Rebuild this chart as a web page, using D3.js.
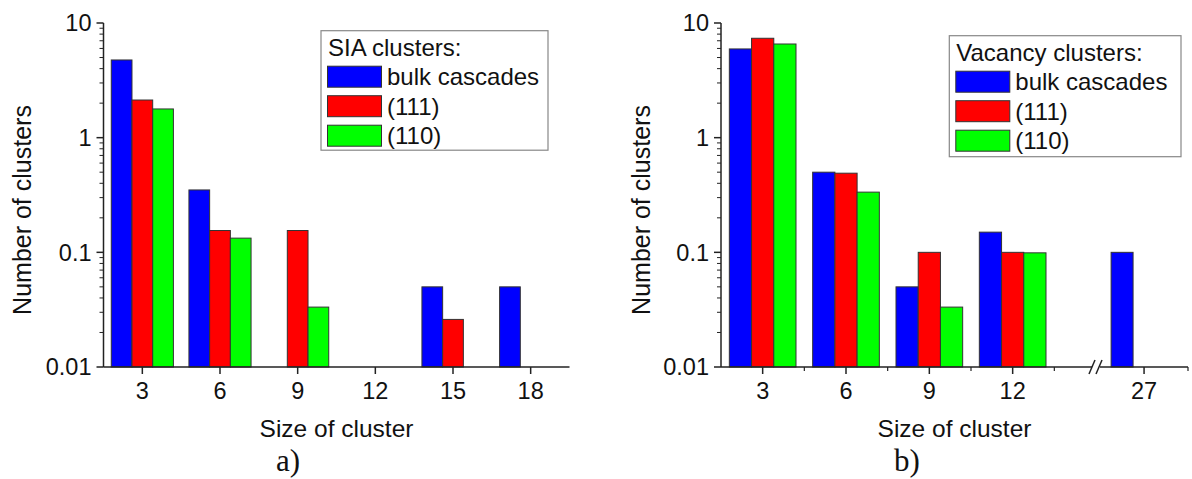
<!DOCTYPE html>
<html>
<head>
<meta charset="utf-8">
<script src="https://cdn.jsdelivr.net/npm/d3@7"></script>
<style>
  body { margin: 0; background: #fff; }
  svg { display: block; }
  text { font-family: 'Liberation Sans', Arial, sans-serif; fill: #111; }
</style>
</head>
<body>
<svg id="chart" width="1192" height="479"></svg>
<script>
// panel a) SIA clusters
const sizesA = [3, 6, 9, 12, 15, 18];
const bulkA = [4.76, 0.35, null, null, 0.05, 0.05];
const s111A = [2.13, 0.155, 0.155, null, 0.026, null];
const s110A = [1.78, 0.133, 0.0333, null, null, null];

// panel b) vacancy clusters
const sizesB = [3, 6, 9, 12, 27];
const bulkB = [5.94, 0.5, 0.05, 0.15, 0.1];
const s111B = [7.36, 0.49, 0.1, 0.1, null];
const s110B = [6.56, 0.335, 0.0333, 0.099, null];

const seriesNames = ['bulk cascades', '(111)', '(110)'];
const seriesColors = ['#0000ff', '#ff0000', '#00ff00'];
const yMajor = [0.01, 0.1, 1, 10];

const svg = d3.select('#chart');
svg.append('rect').attr('width', 1192).attr('height', 479).attr('fill', '#fff');

const axisColor = '#222';
const barStroke = '#333';

function drawPanel(p) {
    const g = svg.append('g');

    const y = d3.scaleLog().domain([0.01, 10]).range([367, 23]);
    const x = d3.scaleLinear().domain(p.xDomain).range(p.xRange);

    // bars
    const rows = [];
    p.sizes.forEach((s, i) => {
        p.series.forEach((vals, k) => {
            if (vals[i] !== null) rows.push({ size: s, k: k, v: vals[i] });
        });
    });
    g.append('g')
        .selectAll('rect')
        .data(rows)
        .enter()
        .append('rect')
            .attr('x', d => x(d.size + (d.k - 1.5) * 0.8))
            .attr('width', d => x(d.size + (d.k - 0.5) * 0.8) - x(d.size + (d.k - 1.5) * 0.8))
            .attr('y', d => y(d.v))
            .attr('height', d => y(0.01) - y(d.v))
            .attr('fill', d => seriesColors[d.k])
            .attr('stroke', barStroke)
            .attr('stroke-width', 1);

    // y axis
    const x0 = p.xRange[0];
    g.append('line')
        .attr('x1', x0).attr('x2', x0)
        .attr('y1', y(10)).attr('y2', y(0.01))
        .attr('stroke', axisColor).attr('stroke-width', 1.5);

    const minor = [];
    [0.01, 0.1, 1].forEach(dec => {
        for (let m = 2; m <= 9; m++) minor.push(dec * m);
    });
    g.append('g').selectAll('line')
        .data(minor)
        .enter()
        .append('line')
            .attr('x1', x0 - 4).attr('x2', x0)
            .attr('y1', d => y(d)).attr('y2', d => y(d))
            .attr('stroke', axisColor).attr('stroke-width', 1);
    g.append('g').selectAll('line')
        .data(yMajor)
        .enter()
        .append('line')
            .attr('x1', x0 - 7).attr('x2', x0)
            .attr('y1', d => y(d)).attr('y2', d => y(d))
            .attr('stroke', axisColor).attr('stroke-width', 1.5);
    g.append('g').selectAll('text')
        .data(yMajor)
        .enter()
        .append('text')
            .attr('x', x0 - 12)
            .attr('y', d => y(d))
            .attr('dy', '0.36em')
            .attr('text-anchor', 'end')
            .style('font-size', '23.5px')
            .text(d => d3.format('~g')(d));

    // x axis
    const yb = y(0.01);
    if (p.breakAt) {
        const bx = x(p.breakAt);
        g.append('line')
            .attr('x1', x0).attr('x2', bx - 4)
            .attr('y1', yb).attr('y2', yb)
            .attr('stroke', axisColor).attr('stroke-width', 1.5);
        g.append('line')
            .attr('x1', bx + 4).attr('x2', p.xRange[p.xRange.length - 1])
            .attr('y1', yb).attr('y2', yb)
            .attr('stroke', axisColor).attr('stroke-width', 1.5);
        [-4, 3].forEach(o => {
            g.append('line')
                .attr('x1', bx + o - 3).attr('x2', bx + o + 3)
                .attr('y1', yb + 7).attr('y2', yb - 7)
                .attr('stroke', axisColor).attr('stroke-width', 1.5);
        });
    } else {
        g.append('line')
            .attr('x1', x0).attr('x2', p.xRange[p.xRange.length - 1])
            .attr('y1', yb).attr('y2', yb)
            .attr('stroke', axisColor).attr('stroke-width', 1.5);
    }
    g.append('g').selectAll('line')
        .data(p.sizes)
        .enter()
        .append('line')
            .attr('x1', d => x(d)).attr('x2', d => x(d))
            .attr('y1', yb).attr('y2', yb + 7)
            .attr('stroke', axisColor).attr('stroke-width', 1.5);
    g.append('g').selectAll('line')
        .data(p.xMinor)
        .enter()
        .append('line')
            .attr('x1', d => x(d)).attr('x2', d => x(d))
            .attr('y1', yb).attr('y2', yb + 4)
            .attr('stroke', axisColor).attr('stroke-width', 1.2);
    g.append('g').selectAll('text')
        .data(p.sizes)
        .enter()
        .append('text')
            .attr('x', d => x(d))
            .attr('y', 399)
            .attr('text-anchor', 'middle')
            .style('font-size', '23.5px')
            .text(d => d);

    // axis titles
    const xMid = (x0 + p.xRange[p.xRange.length - 1]) / 2;
    g.append('text')
        .attr('x', xMid).attr('y', 437)
        .attr('text-anchor', 'middle')
        .style('font-size', '24.5px')
        .text('Size of cluster');
    g.append('text')
        .attr('transform', `translate(${p.yTitleX},210) rotate(-90)`)
        .attr('text-anchor', 'middle')
        .style('font-size', '25px')
        .text('Number of clusters');

    // panel label
    g.append('text')
        .attr('x', p.labelX).attr('y', 471)
        .style('font-family', "'Liberation Serif', 'Times New Roman', serif")
        .style('font-size', '31px')
        .text(p.label);

    // legend
    const L = p.legend;
    const lg = g.append('g').attr('transform', `translate(${L.x},${L.y})`);
    lg.append('rect')
        .attr('width', L.w).attr('height', L.h)
        .attr('fill', '#fff')
        .attr('stroke', '#888').attr('stroke-width', 1.2);
    lg.append('text')
        .attr('x', 7).attr('y', 25)
        .style('font-size', '24px')
        .text(p.title);
    const items = lg.selectAll('g.item')
        .data(seriesNames)
        .enter()
        .append('g')
            .attr('class', 'item')
            .attr('transform', (d, i) => `translate(0,${46 + i * 29.5})`);
    items.append('rect')
        .attr('x', 6.5).attr('y', -10.5)
        .attr('width', 54).attr('height', 21)
        .attr('fill', (d, i) => seriesColors[i])
        .attr('stroke', barStroke).attr('stroke-width', 1);
    items.append('text')
        .attr('x', 66).attr('dy', '0.35em')
        .style('font-size', '24px')
        .text(d => d);
}

drawPanel({
    sizes: sizesA,
    series: [bulkA, s111A, s110A],
    xDomain: [1.5, 19.5],
    xRange: [103.5, 569.5],
    xMinor: [],
    yTitleX: 31,
    label: 'a)',
    labelX: 276,
    title: 'SIA clusters:',
    legend: { x: 321, y: 30.7, w: 227, h: 119.5 }
});

drawPanel({
    sizes: sizesB,
    series: [bulkB, s111B, s110B],
    xDomain: [1.5, 15, 25.25, 28.6],
    xRange: [721, 1096, 1096, 1188],
    xMinor: [4.5, 7.5, 10.5, 13.5, 28.6],
    breakAt: 15,
    yTitleX: 650,
    label: 'b)',
    labelX: 894,
    title: 'Vacancy clusters:',
    legend: { x: 949.3, y: 35.7, w: 231.7, h: 121 }
});
</script>
</body>
</html>
